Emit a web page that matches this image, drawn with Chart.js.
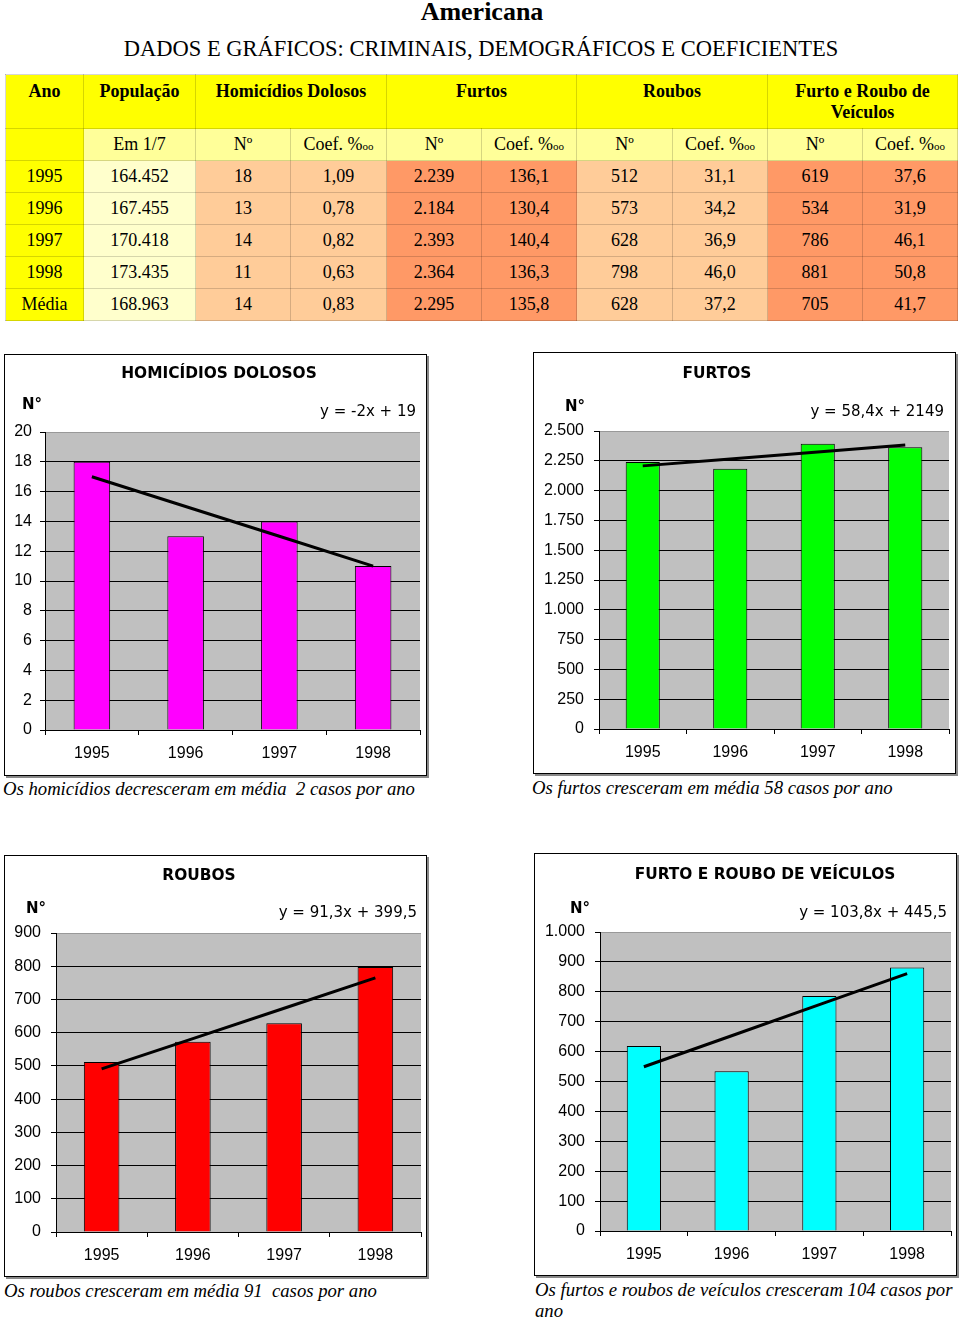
<!DOCTYPE html>
<html lang="pt-BR">
<head>
<meta charset="utf-8">
<title>Americana</title>
<script src="https://cdn.jsdelivr.net/npm/chart.js@4.4.1/dist/chart.umd.min.js"></script>
<style>
  body { margin: 0; background: #fff; }
  #page { position: relative; width: 960px; height: 1319px; overflow: hidden; font-family: "Liberation Serif", "Times New Roman", serif; color: #000; }
  h1 { position: absolute; left: 0; width: 964px; top: -3px; margin: 0; text-align: center; font-size: 26px; font-weight: bold; }
  h2 { position: absolute; left: 0; width: 962px; top: 36px; margin: 0; text-align: center; font-size: 22.5px; font-weight: normal; }
  table { position: absolute; left: 5px; top: 74px; width: 952px; border-collapse: collapse; table-layout: fixed; font-size: 18px; }
  td, th { border: 1px solid rgba(0,0,0,0.16); text-align: center; padding: 0; }
  th { font-weight: bold; vertical-align: top; padding-top: 6px; line-height: 21px; background: #ffff00; }
  tr.head { height: 54px; }
  tr.sub, tr.row { height: 32px; }
  tr.sub td { background: #ffff99; }
  td.ano { background: #ffff00 !important; }
  td.pop { background: #ffffcc; }
  td.hom, td.rou { background: #ffcc99; }
  td.fur, td.vei { background: #ff9966; }
  small { font-size: 11px; }
  .frame { position: absolute; box-sizing: border-box; border: 1px solid #000; box-shadow: 2px 2px 0 #888; background: #fff; }
  .frame canvas { position: absolute; left: 0; top: 0; }
  .ctitle { position: absolute; font-family: "DejaVu Sans", Verdana, sans-serif; font-weight: bold; font-size: 15.4px; white-space: nowrap; transform: translate(-50%, -50%); }
  .num { position: absolute; font-family: "DejaVu Sans", Verdana, sans-serif; font-weight: bold; font-size: 15px; transform: translateY(-50%); }
  .eq { position: absolute; font-family: "DejaVu Sans", Verdana, sans-serif; font-size: 15px; white-space: nowrap; transform: translate(-100%, -50%); }
  .cap { position: absolute; font-style: italic; font-size: 18.7px; white-space: nowrap; transform: translateY(-50%); }
</style>
</head>
<body>
<div id="page">
  <h1>Americana</h1>
  <h2>DADOS E GRÁFICOS: CRIMINAIS, DEMOGRÁFICOS E COEFICIENTES</h2>

  <table>
    <colgroup>
      <col style="width:78px"><col style="width:112px">
      <col style="width:95px"><col style="width:96px">
      <col style="width:95px"><col style="width:95px">
      <col style="width:96px"><col style="width:95px">
      <col style="width:95px"><col style="width:95px">
    </colgroup>
    <tr class="head">
      <th>Ano</th><th>População</th><th colspan="2">Homicídios Dolosos</th>
      <th colspan="2">Furtos</th><th colspan="2">Roubos</th><th colspan="2">Furto e Roubo de Veículos</th>
    </tr>
    <tr class="sub">
      <td class="ano"></td><td>Em 1/7</td>
      <td>Nº</td><td>Coef. %<small>oo</small></td>
      <td>Nº</td><td>Coef. %<small>oo</small></td>
      <td>Nº</td><td>Coef. %<small>oo</small></td>
      <td>Nº</td><td>Coef. %<small>oo</small></td>
    </tr>
    <tr class="row"><td class="ano">1995</td><td class="pop">164.452</td><td class="hom">18</td><td class="hom">1,09</td><td class="fur">2.239</td><td class="fur">136,1</td><td class="rou">512</td><td class="rou">31,1</td><td class="vei">619</td><td class="vei">37,6</td></tr>
    <tr class="row"><td class="ano">1996</td><td class="pop">167.455</td><td class="hom">13</td><td class="hom">0,78</td><td class="fur">2.184</td><td class="fur">130,4</td><td class="rou">573</td><td class="rou">34,2</td><td class="vei">534</td><td class="vei">31,9</td></tr>
    <tr class="row"><td class="ano">1997</td><td class="pop">170.418</td><td class="hom">14</td><td class="hom">0,82</td><td class="fur">2.393</td><td class="fur">140,4</td><td class="rou">628</td><td class="rou">36,9</td><td class="vei">786</td><td class="vei">46,1</td></tr>
    <tr class="row"><td class="ano">1998</td><td class="pop">173.435</td><td class="hom">11</td><td class="hom">0,63</td><td class="fur">2.364</td><td class="fur">136,3</td><td class="rou">798</td><td class="rou">46,0</td><td class="vei">881</td><td class="vei">50,8</td></tr>
    <tr class="row"><td class="ano">Média</td><td class="pop">168.963</td><td class="hom">14</td><td class="hom">0,83</td><td class="fur">2.295</td><td class="fur">135,8</td><td class="rou">628</td><td class="rou">37,2</td><td class="vei">705</td><td class="vei">41,7</td></tr>
  </table>

  <!-- chart 1 -->
  <div class="frame" style="left:4px;top:354px;width:423px;height:422px;">
    <canvas id="c1" width="421" height="420"></canvas>
  </div>
  <div class="ctitle" style="left:219px;top:373px;">HOMICÍDIOS DOLOSOS</div>
  <div class="num" style="left:22px;top:404px;">N°</div>
  <div class="eq" style="left:416px;top:411px;">y = -2x + 19</div>
  <div class="cap" style="left:3px;top:789px;">Os homicídios decresceram em média&nbsp; 2 casos por ano</div>

  <!-- chart 2 -->
  <div class="frame" style="left:533px;top:352px;width:423px;height:422px;">
    <canvas id="c2" width="421" height="420"></canvas>
  </div>
  <div class="ctitle" style="left:717px;top:373px;">FURTOS</div>
  <div class="num" style="left:565px;top:406px;">N°</div>
  <div class="eq" style="left:944px;top:411px;">y = 58,4x + 2149</div>
  <div class="cap" style="left:532px;top:788px;">Os furtos cresceram em média 58 casos por ano</div>

  <!-- chart 3 -->
  <div class="frame" style="left:4px;top:855px;width:423px;height:422px;">
    <canvas id="c3" width="421" height="420"></canvas>
  </div>
  <div class="ctitle" style="left:199px;top:875px;">ROUBOS</div>
  <div class="num" style="left:26px;top:908px;">N°</div>
  <div class="eq" style="left:417px;top:912px;">y = 91,3x + 399,5</div>
  <div class="cap" style="left:4px;top:1291px;">Os roubos cresceram em média 91&nbsp; casos por ano</div>

  <!-- chart 4 -->
  <div class="frame" style="left:534px;top:853px;width:423px;height:423px;">
    <canvas id="c4" width="421" height="421"></canvas>
  </div>
  <div class="ctitle" style="left:765px;top:874px;">FURTO E ROUBO DE VEÍCULOS</div>
  <div class="num" style="left:570px;top:908px;">N°</div>
  <div class="eq" style="left:947px;top:912px;">y = 103,8x + 445,5</div>
  <div class="cap" style="left:535px;top:1290px;">Os furtos e roubos de veículos cresceram 104 casos por</div>
  <div class="cap" style="left:535px;top:1311px;">ano</div>
</div>

<script>
// chart values
const years = ["1995", "1996", "1997", "1998"];
const homicidios = [18, 13, 14, 11];
const furtos = [2239, 2184, 2393, 2364];
const roubos = [512, 573, 628, 798];
const veiculos = [619, 534, 786, 881];

// trend lines (linear fits shown on each chart)
const trendHomicidios = [17, 15, 13, 11];
const trendFurtos = [2207.4, 2265.8, 2324.2, 2382.6];
const trendRoubos = [490.8, 582.1, 673.4, 764.7];
const trendVeiculos = [549.3, 653.1, 756.9, 860.7];

// fills the plot area grey before the grid is drawn
const plotBackground = {
  id: "plotBackground",
  beforeDraw(chart) {
    const { ctx, chartArea } = chart;
    ctx.save();
    ctx.fillStyle = "#c0c0c0";
    ctx.fillRect(chartArea.left, chartArea.top, chartArea.right - chartArea.left, chartArea.bottom - chartArea.top);
    ctx.restore();
  }
};

function thousands(v) {
  return String(v).replace(/\B(?=(\d{3})+(?!\d))/g, ".");
}

function barChart(id, values, trend, color, yMax, yStep, layout) {
  const tickFont = { family: "'Liberation Sans', Arial, sans-serif", size: 16 };
  return new Chart(document.getElementById(id), {
    type: "bar",
    data: {
      labels: years,
      datasets: [
        { type: "line", data: trend, borderColor: "#000", borderWidth: 3, pointRadius: 0, tension: 0, order: 0 },
        { data: values, backgroundColor: color, borderColor: "#000", borderWidth: 1,
          categoryPercentage: 1, barPercentage: 0.39, order: 1 }
      ]
    },
    options: {
      responsive: false,
      animation: false,
      layout: { padding: { top: layout.top, right: layout.right, left: 0, bottom: 0 } },
      plugins: { legend: { display: false }, tooltip: { enabled: false } },
      scales: {
        x: {
          grid: { drawOnChartArea: false, tickLength: 5, tickColor: "#000", offset: true },
          border: { color: "#000" },
          ticks: { font: tickFont, color: "#000", padding: 9, maxRotation: 0 },
          afterFit(scale) { scale.height = layout.xHeight; }
        },
        y: {
          min: 0,
          max: yMax,
          grid: {
            color: (ctx) => (ctx.tick && ctx.tick.value === yMax ? "#999" : "#000"),
            tickColor: "#000",
            tickLength: 5
          },
          border: { color: "#000" },
          ticks: { stepSize: yStep, font: tickFont, color: "#000", padding: layout.pad, callback: (v) => thousands(v) },
          afterFit(scale) { scale.width = layout.yWidth; }
        }
      }
    },
    plugins: [plotBackground]
  });
}

barChart("c1", homicidios, trendHomicidios, "#ff00ff", 20, 2, { top: 77, right: 6, xHeight: 45, yWidth: 40, pad: 8 });
barChart("c2", furtos, trendFurtos, "#00ff00", 2500, 250, { top: 78, right: 6, xHeight: 44, yWidth: 65, pad: 10 });
barChart("c3", roubos, trendRoubos, "#ff0000", 900, 100, { top: 77, right: 5, xHeight: 44, yWidth: 51, pad: 10 });
barChart("c4", veiculos, trendVeiculos, "#00ffff", 1000, 100, { top: 78, right: 5, xHeight: 44, yWidth: 65, pad: 10 });
</script>
</body>
</html>
